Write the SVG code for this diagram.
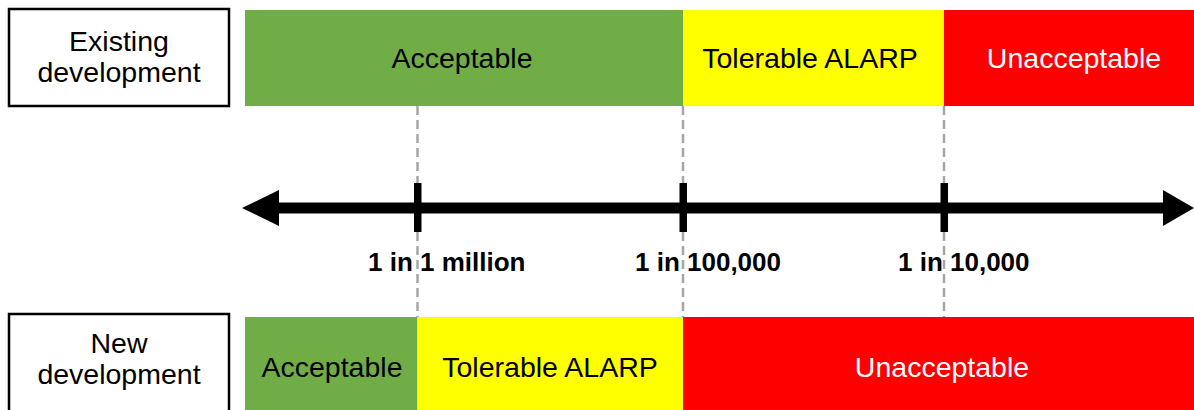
<svg xmlns="http://www.w3.org/2000/svg" width="1194" height="410" viewBox="0 0 1194 410">
<style>
.box{fill:#fff;stroke:#000;stroke-width:2.5}
.lbl{font-family:"Liberation Sans",Arial,sans-serif;font-size:28.5px;fill:#000;text-anchor:middle}
.w{fill:#fff}
.tick{font-family:"Liberation Sans",Arial,sans-serif;font-size:26px;font-weight:bold;fill:#000}
.g{fill:#70AD47}.y{fill:#FFFF00}.r{fill:#FF0000}
.dash{stroke:#A6A6A6;stroke-width:2.5;stroke-dasharray:9 5;fill:none}
</style>
<rect width="1194" height="410" fill="#fff"/>
<g id="connectors">
<line class="dash" x1="417.5" y1="106" x2="417.5" y2="317"/>
<line class="dash" x1="683" y1="106" x2="683" y2="317"/>
<line class="dash" x1="944" y1="106" x2="944" y2="317"/>
<line x1="272" y1="208" x2="1166" y2="208" stroke="#000" stroke-width="11"/>
<polygon points="242,208 279,190 279,226" fill="#000"/>
<polygon points="1194,208 1163,190 1163,226" fill="#000"/>
<rect x="414" y="183" width="7.5" height="49" fill="#000"/>
<rect x="679.5" y="183" width="7.5" height="49" fill="#000"/>
<rect x="940.5" y="183" width="7.5" height="49" fill="#000"/>
</g>
<g id="existing-label">
<rect class="box" x="9" y="9" width="220" height="97"/>
<text class="lbl" x="119" y="51">Existing</text>
<text class="lbl" x="119" y="82">development</text>
</g>
<g id="new-label">
<rect class="box" x="9" y="314" width="220" height="110"/>
<text class="lbl" x="119" y="353">New</text>
<text class="lbl" x="119" y="384">development</text>
</g>
<g id="existing-acceptable">
<rect class="g" x="245" y="10" width="438" height="96"/>
<text class="lbl" x="462" y="68">Acceptable</text>
</g>
<g id="existing-tolerable">
<rect class="y" x="683" y="10" width="261" height="96"/>
<text class="lbl" x="810" y="68">Tolerable ALARP</text>
</g>
<g id="existing-unacceptable">
<rect class="r" x="944" y="10" width="250" height="96"/>
<text class="lbl w" x="1074" y="68">Unacceptable</text>
</g>
<g id="new-acceptable">
<rect class="g" x="245" y="317" width="172.5" height="93"/>
<text class="lbl" x="332" y="377">Acceptable</text>
</g>
<g id="new-tolerable">
<rect class="y" x="417.5" y="317" width="265.5" height="93"/>
<text class="lbl" x="550" y="377">Tolerable ALARP</text>
</g>
<g id="new-unacceptable">
<rect class="r" x="683" y="317" width="511" height="93"/>
<text class="lbl w" x="942" y="377">Unacceptable</text>
</g>
<g id="tick-labels">
<text class="tick" x="368" y="271">1 in 1 million</text>
<text class="tick" x="635" y="271">1 in 100,000</text>
<text class="tick" x="898" y="271">1 in 10,000</text>
</g>
</svg>
